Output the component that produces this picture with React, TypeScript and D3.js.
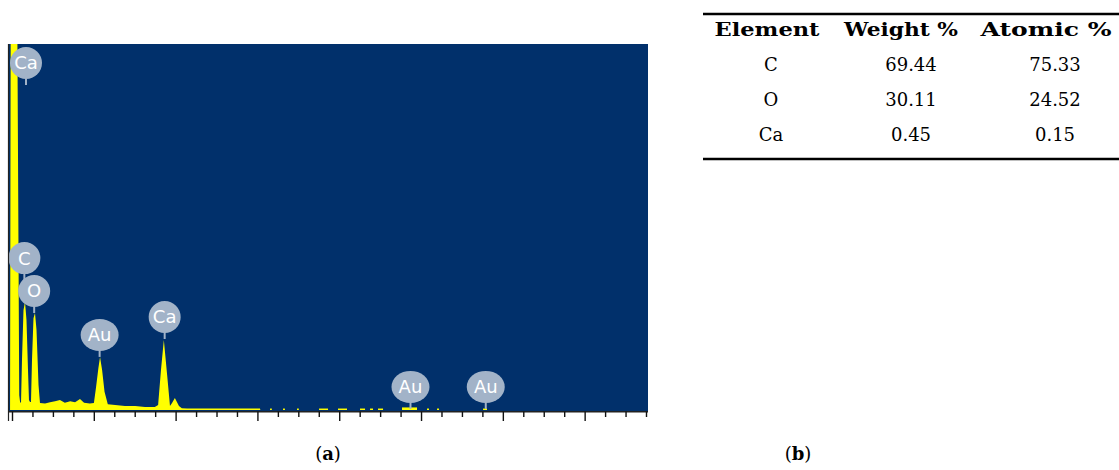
import React from "react";
import * as d3 from "d3";

// Continuous spectrum: energy (keV) and counts
const spectrumEnergy = [
  -0.06, -0.045, 0.12, 0.165, 0.185, 0.208, 0.232, 0.269, 0.306, 0.342, 0.379, 0.403, 0.428, 0.452, 0.477, 0.513,
  0.55, 0.587, 0.636, 0.672, 0.795, 0.917, 1.04, 1.16, 1.28, 1.41, 1.53, 1.65, 1.75, 1.89, 1.99, 2.04, 2.1, 2.14,
  2.19, 2.25, 2.33, 2.51, 2.75, 3.0, 3.24, 3.48, 3.56, 3.63, 3.7, 3.78, 3.85, 3.9, 3.97, 4.07, 4.14, 4.27, 6.05,
  6.06,
];
const spectrumCounts = [
  0, 1010, 1010, 40, 22, 19, 137, 273, 295, 246, 109, 27, 22, 22, 137, 251,
  265, 219, 68, 19, 18, 21, 24, 27, 20, 24, 21, 30, 20, 18, 19, 60, 115, 145,
  110, 50, 16, 14, 11, 11, 8, 8, 14, 109, 191, 96, 11, 19, 33, 11, 5, 4, 4,
  0,
];

// Isolated short runs of counts at higher energy (start keV, end keV, counts)
const dashStart = [6.296, 6.614, 6.956, 7.494, 7.958, 8.496, 8.741, 8.936, 9.523, 10.134, 10.379, 11.504];
const dashEnd = [6.34, 6.66, 7.0, 7.714, 8.178, 8.619, 8.814, 9.059, 9.89, 10.183, 10.428, 11.601];
const dashCounts = [4, 4, 4, 4, 4, 4, 4, 4, 7, 4, 4, 4];

// Peak labels
const labelNames = ["Ca", "C", "O", "Au", "Ca", "Au", "Au"];
const labelEnergy = [0.33, 0.29, 0.53, 2.13, 3.72, 9.73, 11.57];
const labelCounts = [888, 355, 265, 145, 194, 3, 3];

// Axis ticks (keV)
const tickValues = d3.range(0, 15.51, 0.5);

// Table
const tableHeader = ["Element", "Weight %", "Atomic %"];
const tableElements = ["C", "O", "Ca"];
const tableWeight = ["69.44", "30.11", "0.45"];
const tableAtomic = ["75.33", "24.52", "0.15"];

const captions = ["(a)", "(b)"];

const W = 1119;
const H = 470;
const plot = { left: 8, right: 648, top: 44, bottom: 411 };

export default function App() {
  const x = d3.scaleLinear().domain([0, 15.5]).range([12.5, 646.5]);
  const y = d3.scaleLinear().domain([0, 1000]).range([410, 44]);
  const pts: [number, number][] = spectrumEnergy.map((e, i) => [e, spectrumCounts[i]]);
  const area = d3
    .area<[number, number]>()
    .x((d) => x(d[0]))
    .y0(y(0))
    .y1((d) => y(d[1]));

  const serif = "'Palatino Linotype','Book Antiqua',Palatino,'DejaVu Serif',serif";
  const headerX = [767, 901, 1046];
  const headerLen = [105, 114, 131];
  const colX = [771, 911, 1055];
  const headerY = 36;
  const rowY = [71, 106, 141];
  const labelColor = "#A2B3C8";

  return (
    <svg
      width={W}
      height={H}
      style={{ position: "absolute", left: 0, top: 0, background: "#fff" }}
    >
      <defs>
        <clipPath id="plotclip">
          <rect x={plot.left} y={plot.top} width={plot.right - plot.left} height={plot.bottom - plot.top} />
        </clipPath>
      </defs>
      <rect
        x={plot.left}
        y={plot.top}
        width={plot.right - plot.left}
        height={plot.bottom - plot.top}
        fill="#01306B"
      />
      <g clipPath="url(#plotclip)" fill="#FFFF00">
        <path d={area(pts) || ""} />
        {dashStart.map((s, i) => (
          <rect
            key={i}
            x={x(s)}
            width={x(dashEnd[i]) - x(s)}
            y={y(dashCounts[i])}
            height={y(0) - y(dashCounts[i])}
          />
        ))}
      </g>
      {/* labels */}
      {labelNames.map((n, i) => {
        const cx = x(labelEnergy[i]);
        const py = y(labelCounts[i]);
        const cy = py - 22;
        const rx = n === "Au" ? 19 : 16;
        return (
          <g key={i}>
            <line x1={cx} x2={cx} y1={cy} y2={py} stroke={labelColor} strokeWidth={2} />
            <ellipse cx={cx} cy={cy} rx={rx} ry={16} fill={labelColor} />
            <text
              x={cx}
              y={cy}
              dy="0.36em"
              textAnchor="middle"
              fill="#fff"
              fontFamily="'DejaVu Sans',sans-serif"
              fontSize={18}
            >
              {n}
            </text>
          </g>
        );
      })}
      {/* axis */}
      <line x1={plot.left} x2={plot.right} y1={411.8} y2={411.8} stroke="#222" strokeWidth={1.6} />
      <line x1={8.5} x2={8.5} y1={plot.top} y2={421} stroke="#222" strokeWidth={1.2} />
      {tickValues.map((t, i) => (
        <line
          key={i}
          x1={x(t)}
          x2={x(t)}
          y1={411.5}
          y2={Math.abs(t % 2) < 1e-6 ? 421 : 417}
          stroke="#111"
          strokeWidth={1.4}
        />
      ))}
      {/* table */}
      <line x1={703} x2={W} y1={14} y2={14} stroke="#000" strokeWidth={2.5} />
      <line x1={703} x2={W} y1={159} y2={159} stroke="#000" strokeWidth={2.5} />
      {tableHeader.map((h, i) => (
        <text
          key={h}
          x={headerX[i]}
          y={headerY}
          textAnchor="middle"
          fontFamily={serif}
          fontWeight="bold"
          fontSize={18}
          textLength={headerLen[i]}
          lengthAdjust="spacingAndGlyphs"
        >
          {h}
        </text>
      ))}
      {tableElements.map((el, r) => (
        <g key={el} fontFamily={serif} fontSize={18} textAnchor="middle">
          <text x={colX[0]} y={rowY[r]}>{el}</text>
          <text x={colX[1]} y={rowY[r]}>{tableWeight[r]}</text>
          <text x={colX[2]} y={rowY[r]}>{tableAtomic[r]}</text>
        </g>
      ))}
      {/* captions */}
      {captions.map((c, i) => (
        <text key={c} x={i === 0 ? 328 : 798} y={460} textAnchor="middle" fontFamily={serif} fontSize={18}>
          (<tspan fontWeight="bold">{c.slice(1, 2)}</tspan>)
        </text>
      ))}
    </svg>
  );
}
